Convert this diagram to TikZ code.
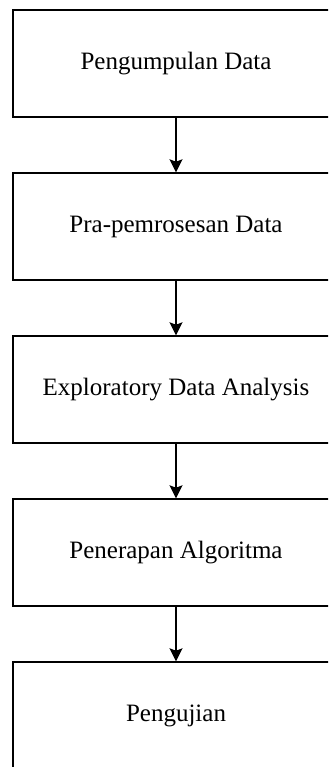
\documentclass[tikz,border=0pt]{standalone}
\usepackage{fontspec}
\setmainfont{Liberation Serif}
\usetikzlibrary{arrows.meta}

\begin{document}
\begin{tikzpicture}[x=0.5pt, y=-0.5pt,
  tahap/.style={draw, line width=0.7pt, minimum width=163pt, minimum height=53.5pt,
    inner sep=0pt, font=\fontsize{12.5}{15}\selectfont},
  panah/.style={line width=0.7pt, -{Stealth[length=6.5pt, width=6.5pt, inset=1.2pt]}}]

\useasboundingbox (0,0) rectangle (328,767);
\clip (0,0) rectangle (328,767);

\node [tahap] (kumpul) at (176,63.5)  {Pengumpulan Data};
\node [tahap] (pra)    at (176,226.5) {Pra-pemrosesan Data};
\node [tahap] (eda)    at (176,389.5) {Exploratory Data Analysis};
\node [tahap] (algo)   at (176,552.5) {Penerapan Algoritma};
\node [tahap] (uji)    at (176,715.5) {Pengujian};

\begin{scope}[panah]
\draw (kumpul) -- (pra);
\draw (pra) -- (eda);
\draw (eda) -- (algo);
\draw (algo) -- (uji);
\end{scope}

\end{tikzpicture}
\end{document}
